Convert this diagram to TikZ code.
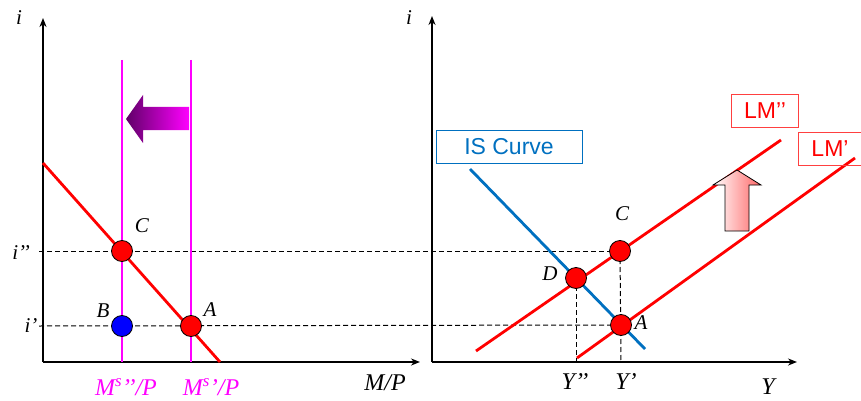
\documentclass[tikz,border=0pt]{standalone}
\usepackage{fontspec}
\setmainfont{Liberation Serif}
\setsansfont{Liberation Sans}
\usetikzlibrary{arrows.meta, positioning, calc}
\definecolor{isblue}{RGB}{0,112,192}
\definecolor{deeppurple}{RGB}{96,0,104}
\definecolor{lmred}{RGB}{255,0,0}
\definecolor{msmag}{RGB}{255,0,255}

\begin{document}
\begin{tikzpicture}[
    x=1pt, y=-1pt,
    axis/.style={line width=2.4pt, -{Stealth[length=9pt, width=7pt]}},
    curve/.style={line width=2.8pt},
    guide/.style={line width=1pt, dash pattern=on 5pt off 3pt},
    dot/.style={circle, draw=black, line width=0.8pt, minimum size=21pt, inner sep=0pt},
    lbl/.style={font=\fontsize{21}{23}\selectfont\itshape, inner sep=0pt},
    big/.style={font=\fontsize{24}{26}\selectfont\itshape, inner sep=0pt},
    tag/.style={draw, line width=1pt, font=\sffamily\fontsize{23}{25}\selectfont, minimum height=33pt, inner sep=0pt}
  ]
  \useasboundingbox (0,0) rectangle (861,401);

  % Money market axes
  \coordinate (mo) at (43,362);
  \draw[axis] (mo) -- (43,18) coordinate (mtop);
  \draw[axis] (mo) -- (420,362) coordinate (mright);
  \node[lbl] (mi) at (19,18) {i};
  \node[big] (mp) at (385,383) {M/P};

  % IS-LM axes
  \coordinate (yo) at (432,362);
  \draw[axis] (yo) -- (432,16) coordinate (ytop);
  \draw[axis] (yo) -- (797,362) coordinate (yright);
  \node[lbl] (yi) at (409,18) {i};
  \node[big] (yy) at (768,387) {Y};

  % Equilibrium points
  \coordinate (Cm) at (122,251);
  \coordinate (Bm) at (122,326);
  \coordinate (Am) at (191,326);
  \coordinate (Cy) at (620,251);
  \coordinate (Dy) at (576,278);
  \coordinate (Ay) at (621,325);

  % Guide lines
  \draw[guide] (39,251) -- (Cy);
  \draw[guide] (39,326) -- (Ay);
  \draw[guide] (Dy) -- (576,362);
  \draw[guide] (Cy) -- (621,362);

  % Money supply and demand
  \draw[curve, msmag] (122,60) -- (122,362);
  \draw[curve, msmag] (191,60) -- (191,362);
  \draw[curve, lmred] (43,163) -- (220,362);
  \shade[left color=deeppurple, right color=msmag]
    (189,107) -- (143,107) -- (143,95) -- (126,119) -- (143,143) -- (143,130) -- (189,130) -- cycle;

  % IS and LM curves
  \draw[curve, isblue] (470,169) -- (645,349);
  \draw[curve, lmred] (476,351) -- (781,140);
  \draw[curve, lmred] (577,358) -- (855,158);
  \draw[left color=white, right color=red!60, draw=black, line width=0.8pt]
    (725,231) -- (725,185) -- (713,185) -- (737,170) -- (761,185) -- (749,185) -- (749,231) -- cycle;

  \node[tag, draw=isblue, text=isblue, minimum width=146pt] (istag) at (509,147) {IS Curve\hspace{14pt}};
  \node[tag, draw=red!75, text=lmred, minimum width=67pt] (lm2tag) at (765,111) {LM’’};
  \node[tag, draw=red!75, text=lmred, minimum width=64pt] (lm1tag) at (830,149) {LM’};

  % Dots
  \node[dot, fill=lmred] (C1) at (Cm) {};
  \node[dot, fill=blue] (B1) at (Bm) {};
  \node[dot, fill=lmred] (A1) at (Am) {};
  \node[dot, fill=lmred] (C2) at (Cy) {};
  \node[dot, fill=lmred] (D2) at (Dy) {};
  \node[dot, fill=lmred] (A2) at (Ay) {};

  % Point labels
  \node[lbl] at (142,226) {C};
  \node[lbl] at (103,311) {B};
  \node[lbl] at (210,310) {A};
  \node[lbl] at (622,214) {C};
  \node[lbl] at (550,274) {D};
  \node[lbl] at (641,323) {A};

  % Axis values
  \node[lbl] (ihigh) at (21,253) {i’’};
  \node[lbl] (ilow) at (31,326) {i’};
  \node[big, text=msmag] (ms2) at (126,387) {M\textsuperscript{s}’’/P};
  \node[big, text=msmag] (ms1) at (211,387) {M\textsuperscript{s}’/P};
  \node[big] (y2) at (575,382) {Y’’};
  \node[big] (y1) at (626,382) {Y’};

\end{tikzpicture}
\end{document}
